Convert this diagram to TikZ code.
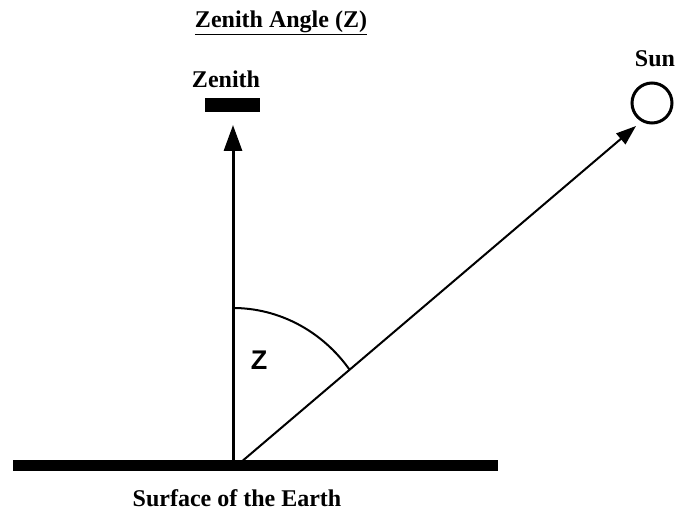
\documentclass[tikz,border=0pt]{standalone}
\usepackage{fontspec}
\setmainfont{Liberation Serif}
\newfontfamily\zfont{Liberation Sans}
\usetikzlibrary{arrows.meta}
\begin{document}
\begin{tikzpicture}[x=1pt,y=-1pt,
  lbl/.style={font=\fontsize{24}{26}\selectfont\bfseries, inner sep=0pt, anchor=base},
  ray/.style={line width=2pt, -{Triangle[length=20pt,width=14pt]}}]
\useasboundingbox (0,0) rectangle (675,510);
% ground
\fill (13,460) rectangle (498,471);
\coordinate (base) at (233,465);
\coordinate (sbase) at (240,463);
% zenith
\node[lbl] (title) at (281,28) {\underline{Zenith Angle (Z)}};
\node[lbl] (zen) at (226,88) {Zenith};
\node[fill=black, minimum width=55pt, minimum height=14pt, inner sep=0pt] (bar) at (232.5,105) {};
\coordinate (ztop) at (233,125);
\draw[line width=3pt, -{Triangle[length=26pt,width=18pt]}] (base) -- (ztop);
% sun
\node[draw, circle, line width=3pt, minimum size=40pt, inner sep=0pt] (sun) at (652,103) {};
\node[lbl] (sunlbl) at (655,67) {Sun};
\coordinate (stip) at (636,126);
\draw[ray] (sbase) -- (stip);
% angle arc
\draw[line width=2pt] (233,308) arc[start angle=90, end angle=36.9, x radius=146, y radius=-155];
\node[font=\zfont\bfseries\fontsize{27}{30}\selectfont, inner sep=0pt] (zlbl) at (259,360) {Z};
\node[lbl] (surf) at (237,506) {Surface of the Earth};
\end{tikzpicture}
\end{document}
